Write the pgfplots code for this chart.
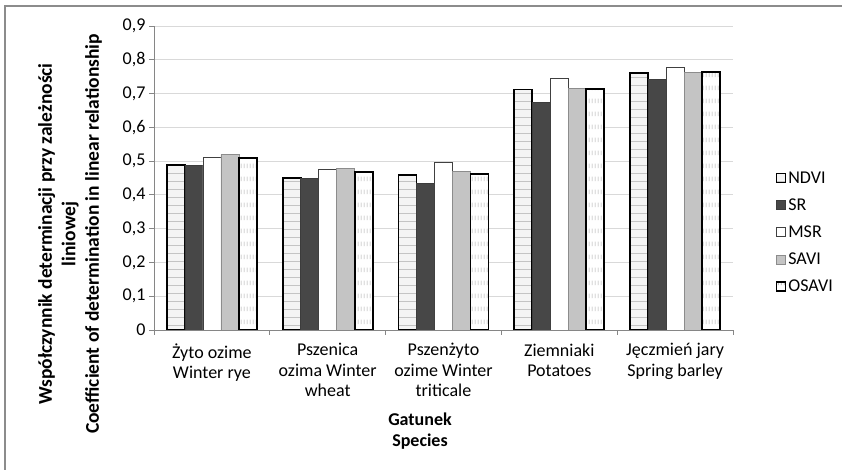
\documentclass[border=0pt]{standalone}
\usepackage{fontspec}
\setmainfont{Carlito}
\usepackage{pgfplots}
\usepackage{pgfplotstable}
\pgfplotsset{compat=1.18}
\usetikzlibrary{patterns.meta}

\definecolor{ndvifill}{HTML}{F4F4F4}
\definecolor{ndviline}{HTML}{C4C4C4}
\definecolor{srfill}{HTML}{474747}
\definecolor{savifill}{HTML}{C4C4C4}
\definecolor{saviedge}{HTML}{8C8C8C}
\definecolor{osavidash}{HTML}{A8A8A8}
\definecolor{axisgray}{HTML}{868686}
\definecolor{gridgray}{HTML}{D9D9D9}
\definecolor{framegray}{HTML}{8C8C8C}

% rows of short vertical dashes for the OSAVI bars
\tikzdeclarepattern{
  name=dashrows, type=uncolored,
  bounding box={(0bp,0bp) and (3bp,13bp)},
  tile size={(3bp,13bp)},
  code={\draw[line width=0.7bp] (1.5bp,3bp) -- (1.5bp,8bp);}
}

\pgfplotsset{
  sqlegend/.style={legend image code/.code={\draw[##1] (0bp,-4.5bp) rectangle (9bp,4.5bp);}},
}

\newcommand{\lbl}{\fontsize{18bp}{20.5bp}\selectfont}

\pgfplotstableread{
x ndvi sr msr savi osavi
0 0.488 0.488 0.511 0.520 0.509
1 0.451 0.448 0.474 0.478 0.468
2 0.460 0.433 0.496 0.469 0.463
3 0.712 0.675 0.745 0.715 0.714
4 0.760 0.741 0.778 0.762 0.763
}\datatable

\begin{document}
\begin{tikzpicture}
\useasboundingbox (0,0) rectangle (842bp,470bp);
\fill[white] (0,0) rectangle (842bp,470bp);
% chart area frame
\draw[framegray, line width=1.8bp] (5bp,-10bp) -- (5bp,464bp) -- (860bp,464bp);

\begin{axis}[
  at={(154bp,140bp)}, anchor=south west,
  width=579bp, height=304bp, scale only axis,
  xmin=-0.5, xmax=4.5, ymin=0, ymax=0.9,
  ybar=0pt, bar width=18bp,
  axis x line*=bottom, axis y line*=left,
  axis line style={axisgray, line width=0.9bp, -},
  tick align=outside, major tick length=5bp,
  tick style={axisgray, line width=0.9bp},
  xtick={-0.5,0.5,...,4.5}, xticklabels={},
  extra x ticks={0,1,2,3,4},
  extra x tick labels={{Żyto ozime\\Winter rye},{Pszenica\\ozima Winter\\wheat},{Pszenżyto\\ozime Winter\\triticale},{Ziemniaki\\Potatoes},{Jęczmień jary\\Spring barley}},
  extra x tick style={major tick length=0pt, xticklabel style={align=center, font=\lbl, anchor=north, yshift=-10bp}},
  ytick={0,0.1,...,0.9},
  yticklabel style={font=\lbl, text=black},
  /pgf/number format/.cd, use comma, fixed, precision=1, assume math mode=true,
  /pgfplots/.cd,
  ymajorgrids, major grid style={gridgray, line width=0.9bp},
  legend style={at={(axis description cs:1.068,0.535)}, anchor=north west, draw=none, fill=none,
    font=\lbl, row sep=10bp, legend cell align=left},
  legend cell align=left,
]
\addplot[sqlegend, preaction={fill=ndvifill}, pattern={Lines[angle=0,distance=8bp,line width=1bp]}, pattern color=ndviline, draw=black, line width=1.8bp]
  table[x=x,y=ndvi]{\datatable};
\addlegendentry{NDVI}
\addplot[sqlegend, fill=srfill, draw=srfill!85!black, line width=0.8bp]
  table[x=x,y=sr]{\datatable};
\addlegendentry{SR}
\addplot[sqlegend, fill=white, draw=black!75, line width=0.8bp]
  table[x=x,y=msr]{\datatable};
\addlegendentry{MSR}
\addplot[sqlegend, fill=savifill, draw=saviedge, line width=0.8bp]
  table[x=x,y=savi]{\datatable};
\addlegendentry{SAVI}
\addplot[sqlegend, preaction={fill=white}, pattern=dashrows, pattern color=osavidash, draw=black, line width=1.8bp]
  table[x=x,y=osavi]{\datatable};
\addlegendentry{OSAVI}
\end{axis}

\node[rotate=90, align=center, font={\fontsize{19.5bp}{23.5bp}\selectfont\bfseries}] at (70bp,236bp)
  {Współczynnik determinacji przy zależności\\liniowej\\Coefficient of determination in linear relationship};
\node[align=center, font={\fontsize{18bp}{21bp}\selectfont\bfseries}] at (420bp,39bp)
  {Gatunek\\Species};
\end{tikzpicture}
\end{document}
